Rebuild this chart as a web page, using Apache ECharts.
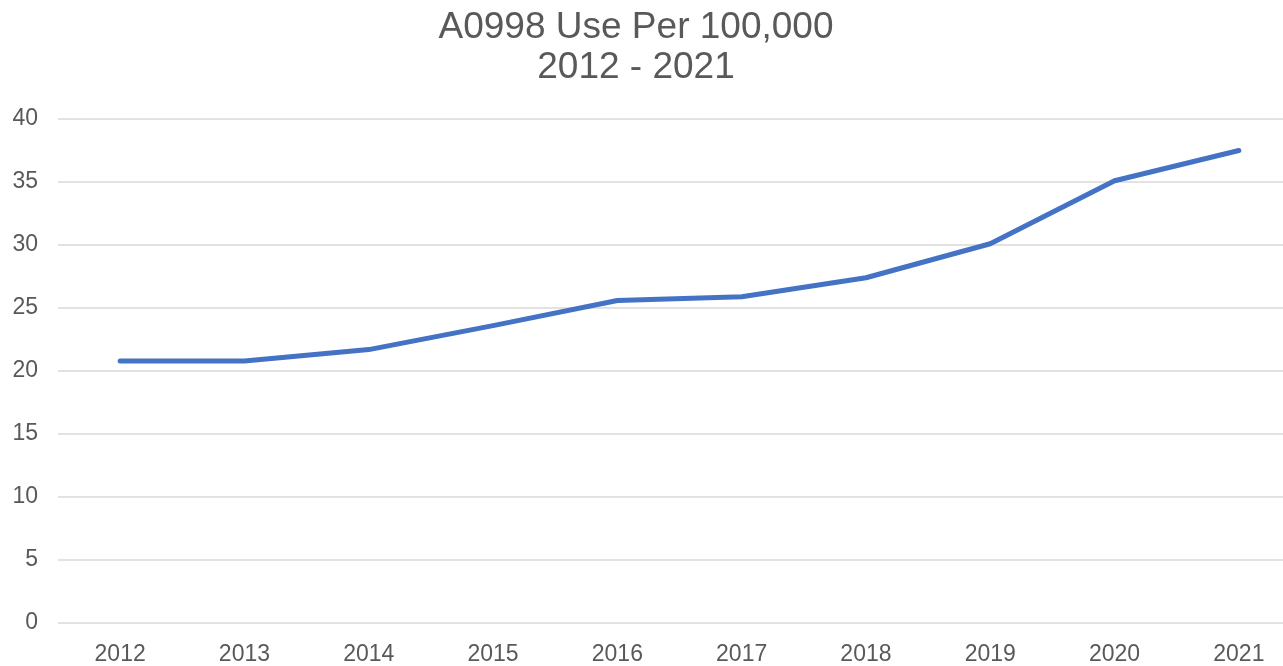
<!DOCTYPE html>
<html>
<head>
<meta charset="utf-8">
<script src="https://cdn.jsdelivr.net/npm/echarts@6/dist/echarts.min.js"></script>
<style>
  html, body { margin: 0; padding: 0; background: #fff; overflow: hidden; }
  /* the plot area of the original runs a little past the right edge */
  #chart { width: 1301px; height: 666px; }
</style>
</head>
<body>
<div id="chart"></div>
<script>
var years = ['2012', '2013', '2014', '2015', '2016', '2017', '2018', '2019', '2020', '2021'];
var usePer100k = [20.8, 20.8, 21.7, 23.6, 25.6, 25.9, 27.4, 30.1, 35.1, 37.5];
var yTicks = { min: 0, max: 40, step: 5 };

var chart = echarts.init(document.getElementById('chart'));
chart.setOption({
    animation: false,
    textStyle: { fontFamily: 'Liberation Sans, Arial, sans-serif' },
    title: {
        text: 'A0998 Use Per 100,000\n2012 - 2021',
        left: 631,
        textAlign: 'center',
        top: 3,
        textStyle: {
            color: '#595959',
            fontSize: 37,
            fontWeight: 'normal',
            lineHeight: 40
        }
    },
    grid: {
        left: 58,
        right: 0,
        top: 119,
        bottom: 43
    },
    xAxis: {
        type: 'category',
        data: years,
        boundaryGap: true,
        axisLine: { show: false },
        axisTick: { show: false },
        axisLabel: {
            color: '#595959',
            fontSize: 23,
            margin: 20
        }
    },
    yAxis: {
        type: 'value',
        min: yTicks.min,
        max: yTicks.max,
        interval: yTicks.step,
        axisLine: { show: false },
        axisTick: { show: false },
        axisLabel: {
            color: '#595959',
            fontSize: 23,
            margin: 20
        },
        splitLine: {
            lineStyle: { color: '#d9d9d9', width: 1.5 }
        }
    },
    series: [
        {
            type: 'line',
            data: usePer100k,
            symbol: 'none',
            lineStyle: {
                color: '#4472c4',
                width: 5,
                cap: 'round',
                join: 'round'
            }
        }
    ]
});
</script>
</body>
</html>
